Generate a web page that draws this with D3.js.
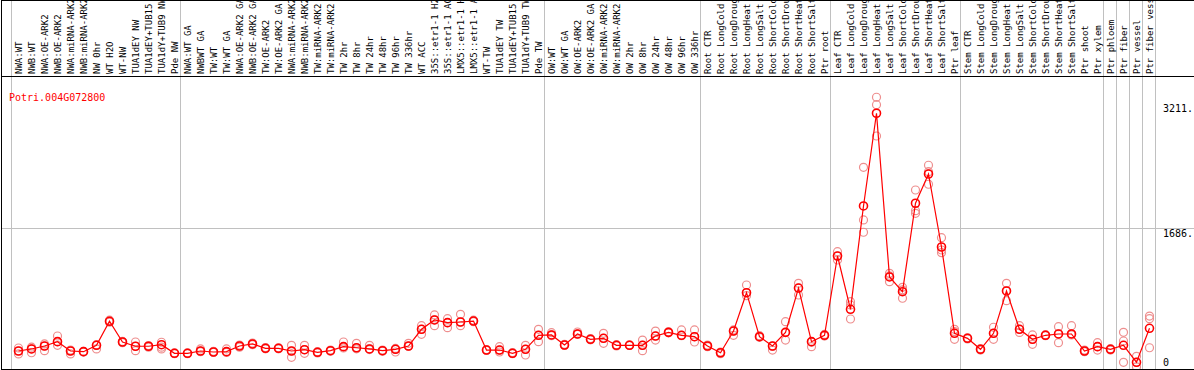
<!DOCTYPE html>
<html>
<head>
<meta charset="utf-8">
<script src="https://cdn.jsdelivr.net/npm/d3@7"></script>
<style>
  body { margin: 0; background: #fff; }
  svg { display: block; }
</style>
</head>
<body>
<div id="chart"></div>
<script>
// expression profile for one gene across samples

var geneName = "Potri.004G072800";

var sampleLabels = [
  "NWA:WT", "NWB:WT", "NWA:OE-ARK2", "NWB:OE-ARK2", "NWA:miRNA-ARK2", "NWB:miRNA-ARK2",
  "NW 0hr", "WT H2O", "WT-NW", "TUA1dEY NW", "TUA1dEY+TUB15 NW", "TUA1dY+TUB9 NW", "Pde NW",
  "NWA:WT GA", "NWBWT GA", "TW:WT", "TW:WT GA", "NWA:OE-ARK2 GA", "NWB:OE-ARK2 GA",
  "TW:OE-ARK2", "TW:OE-ARK2 GA", "NWA:miRNA-ARK2 GA", "NWB:miRNA-ARK2 GA", "TW:miRNA-ARK2",
  "TW:miRNA-ARK2", "TW 2hr", "TW 8hr", "TW 24hr", "TW 48hr", "TW 96hr", "TW 336hr", "WT ACC",
  "35S::etr1-1 H2O", "35S::etr1-1 ACC", "LMX5::etr1-1 H2O", "LMX5::etr1-1 ACC", "WT-TW",
  "TUA1dEY TW", "TUA1dEY+TUB15 TW", "TUA1dY+TUB9 TW", "Pde TW",
  "OW:WT", "OW:WT GA", "OW:OE-ARK2", "OW:OE-ARK2 GA", "OW:miRNA-ARK2", "OW:miRNA-ARK2",
  "OW 2hr", "OW 8hr", "OW 24hr", "OW 48hr", "OW 96hr", "OW 336hr",
  "Root CTR", "Root LongCold", "Root LongDrought", "Root LongHeat", "Root LongSalt",
  "Root ShortCold", "Root ShortDrought", "Root ShortHeat", "Root ShortSalt", "Ptr root",
  "Leaf CTR", "Leaf LongCold", "Leaf LongDrought", "Leaf LongHeat", "Leaf LongSalt",
  "Leaf ShortCold", "Leaf ShortDrought", "Leaf ShortHeat", "Leaf ShortSalt", "Ptr leaf",
  "Stem CTR", "Stem LongCold", "Stem LongDrought", "Stem LongHeat", "Stem LongSalt",
  "Stem ShortCold", "Stem ShortDrought", "Stem ShortHeat", "Stem ShortSalt", "Ptr shoot",
  "Ptr xylem", "Ptr phloem", "Ptr fiber", "Ptr vessel", "Ptr fiber vessel"
];

// number of samples in each experiment block
var groupSizes = [13, 28, 12, 10, 10, 11, 1, 1, 1, 1];

var meanValues = [
  183, 208, 244, 297, 183, 175, 253, 546, 293, 241, 241, 260, 155,
  155, 183, 171, 175, 244, 269, 216, 216, 183, 199, 167, 187, 236, 223, 208, 187, 204, 244,
  448, 562, 529, 537, 549, 195, 195, 155, 204, 375,
  379, 256, 391, 326, 338, 253, 253, 253, 366, 411, 375, 358,
  244, 162, 427, 895, 358, 244, 411, 952, 297, 375,
  1343, 692, 1954, 3086, 1087, 907, 1987, 2344, 1453, 399,
  338, 204, 399, 916, 448, 326, 375, 391, 391, 183, 236,
  204, 253, 45, 460
];

var rep1 = [
  220, 230, 269, 366, 195, 180, 260, 560, 300, 293, 250, 290, 160,
  160, 208, 180, 208, 255, 280, 225, 222, 253, 253, 175, 195, 293, 277, 253, 195, 215, 277,
  492, 623, 578, 631, 560, 200, 236, 165, 253, 448,
  407, 265, 415, 335, 399, 260, 258, 317, 427, 418, 440, 440,
  255, 170, 440, 989, 370, 240, 541, 1010, 290, 385,
  1396, 785, 2426, 3281, 1132, 960, 2149, 2451, 1567, 448,
  345, 212, 473, 1010, 492, 379, 382, 480, 492, 195, 285,
  212, 411, 118, 610
];

var rep2 = [
  147, 162, 187, 253, 147, 170, 208, 535, 285, 187, 230, 208, 150,
  150, 175, 165, 165, 230, 260, 210, 210, 106, 155, 160, 180, 220, 210, 200, 180, 171, 240,
  387, 492, 468, 492, 540, 190, 171, 150, 134, 297,
  370, 250, 385, 320, 277, 245, 250, 187, 317, 405, 370, 293,
  235, 150, 375, 858, 350, 195, 317, 867, 236, 365,
  1294, 745, 1783, 3191, 1100, 930, 1896, 2372, 1416, 420,
  330, 195, 326, 797, 410, 265, 370, 285, 380, 175, 195,
  195, 305, -10, 578
];

var rep3 = [
  183, 208, 244, 297, 183, 175, 253, 546, 293, 241, 241, 230, 155,
  155, 183, 171, 175, 244, 269, 216, 216, 183, 199, 167, 187, 236, 223, 208, 187, 204, 244,
  448, 562, 529, 537, 549, 195, 195, 155, 204, 375,
  379, 256, 391, 326, 338, 253, 253, 253, 366, 411, 375, 358,
  244, 162, 427, 895, 358, 244, 411, 952, 297, 375,
  1343, 574, 1633, 2808, 1030, 827, 1864, 2219, 1384, 326,
  338, 204, 399, 916, 448, 326, 375, 391, 391, 183, 236,
  204, 45, 45, 223
];

var tickValues = [0, 1686, 3211];
var tickLabels = ["0", "1686.", "3211."];

var svgWidth = 1194;
var svgHeight = 370;

var headerBottom = 76;
var plotBottom = 369;

var svg = d3.select("#chart")
  .append("svg")
  .attr("width", svgWidth)
  .attr("height", svgHeight);

var idx = d3.range(sampleLabels.length);

var xScale = d3.scaleBand()
  .domain(idx)
  .range([12, 12 + 13 * sampleLabels.length]);

var yScale = d3.scaleLinear()
  .domain([0, 3211])
  .range([366, 103]);

function cx(i) { return xScale(i) + xScale.bandwidth() / 2; }

svg.append("defs").append("clipPath")
  .attr("id", "plotClip")
  .append("rect")
  .attr("x", 2)
  .attr("y", headerBottom + 1)
  .attr("width", svgWidth)
  .attr("height", plotBottom - headerBottom - 1);

// horizontal grid line (middle tick only)
svg.append("line")
  .attr("x1", 1).attr("x2", svgWidth)
  .attr("y1", Math.round(yScale(1686)) + 0.5)
  .attr("y2", Math.round(yScale(1686)) + 0.5)
  .attr("stroke", "#c0c0c0");

// group separators
var boundaries = [0];
groupSizes.forEach(function(n) { boundaries.push(boundaries[boundaries.length - 1] + n); });

svg.append("g")
  .selectAll("line")
  .data(boundaries)
  .enter()
  .append("line")
  .attr("x1", function(b) { return (b < idx.length ? xScale(b) : xScale(idx.length - 1) + 13) - 0.5; })
  .attr("x2", function(b) { return (b < idx.length ? xScale(b) : xScale(idx.length - 1) + 13) - 0.5; })
  .attr("y1", 0)
  .attr("y2", plotBottom)
  .attr("stroke", "#c0c0c0");

// frame
svg.append("line").attr("x1", 1.5).attr("x2", 1.5).attr("y1", 0).attr("y2", svgHeight).attr("stroke", "#000");
svg.append("line").attr("x1", 1).attr("x2", svgWidth).attr("y1", 0.5).attr("y2", 0.5).attr("stroke", "#000");
svg.append("line").attr("x1", 1).attr("x2", svgWidth).attr("y1", headerBottom + 0.5).attr("y2", headerBottom + 0.5).attr("stroke", "#000");
svg.append("line").attr("x1", 1).attr("x2", svgWidth).attr("y1", plotBottom + 0.5).attr("y2", plotBottom + 0.5).attr("stroke", "#000");

// sample names, rotated
svg.append("g")
  .selectAll("text")
  .data(idx)
  .enter()
  .append("text")
  .attr("transform", function(i) { return "translate(" + (cx(i) + 3.5) + "," + (headerBottom - 2) + ") rotate(-90)"; })
  .attr("font-family", "'DejaVu Sans Mono', monospace")
  .attr("font-size", "9px")
  .attr("fill", "#000")
  .text(function(i) { return sampleLabels[i]; });

// gene title
svg.append("text")
  .attr("x", 9)
  .attr("y", 101)
  .attr("font-family", "'DejaVu Sans Mono', monospace")
  .attr("font-size", "10px")
  .attr("fill", "red")
  .text(geneName);

// value labels on the right
svg.append("g")
  .selectAll("text")
  .data(tickValues)
  .enter()
  .append("text")
  .attr("x", 1163)
  .attr("y", function(v, k) { return k === 0 ? 366 : yScale(v) + 9; })
  .attr("font-family", "'DejaVu Sans Mono', monospace")
  .attr("font-size", "10px")
  .attr("fill", "#000")
  .text(function(v, k) { return tickLabels[k]; });

var plot = svg.append("g").attr("clip-path", "url(#plotClip)");

// replicate circles
[rep1, rep2, rep3].forEach(function(rep) {
  plot.append("g")
    .selectAll("circle")
    .data(idx)
    .enter()
    .append("circle")
    .attr("cx", function(i) { return cx(i); })
    .attr("cy", function(i) { return yScale(rep[i]); })
    .attr("r", 4)
    .attr("fill", "none")
    .attr("stroke", "#ee8e8e")
    .attr("stroke-width", 1.2);
});

var line = d3.line()
  .x(function(i) { return cx(i); })
  .y(function(i) { return yScale(meanValues[i]); });

plot.append("path")
  .datum(idx)
  .attr("d", line)
  .attr("fill", "none")
  .attr("stroke", "red")
  .attr("stroke-width", 1.2);

plot.append("g")
  .selectAll("circle")
  .data(idx)
  .enter()
  .append("circle")
  .attr("cx", function(i) { return cx(i); })
  .attr("cy", function(i) { return yScale(meanValues[i]); })
  .attr("r", 4)
  .attr("fill", "none")
  .attr("stroke", "red")
  .attr("stroke-width", 1.6);
</script>
</body>
</html>
